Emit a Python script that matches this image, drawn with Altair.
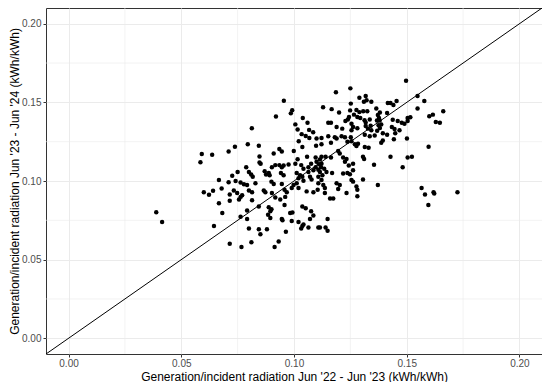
import altair as alt
import pandas as pd

# Generation/incident radiation, Jun '22 - Jun '23 (x) vs Jun '23 - Jun '24 (y)
x_vals = [
    0.0955, 0.092, 0.0986, 0.0992, 0.1039, 0.106, 0.1006, 0.1016, 0.1067, 0.1085, 0.0813,
    0.1497, 0.125, 0.1186, 0.1318, 0.129, 0.1322, 0.131, 0.1343, 0.1252, 0.1416, 0.1428,
    0.1441, 0.1455, 0.1129, 0.1167, 0.12, 0.1249, 0.1277, 0.129, 0.1307, 0.1325, 0.1365,
    0.1381, 0.1372, 0.1413, 0.1266, 0.1281, 0.1294, 0.1313, 0.1336, 0.1318, 0.1239, 0.1244,
    0.1377, 0.1368, 0.138, 0.1438, 0.146, 0.1478, 0.1504, 0.1152, 0.1164, 0.1189, 0.1214,
    0.1228, 0.1255, 0.1262, 0.1281, 0.1255, 0.1318, 0.1328, 0.134, 0.1375, 0.1387, 0.1381,
    0.1434, 0.1446, 0.1468, 0.149, 0.1504, 0.1343, 0.1369,
    0.1548, 0.1578, 0.1548, 0.1516, 0.16, 0.1616, 0.1662, 0.1629, 0.1647,
    0.0591, 0.0637, 0.0585, 0.071, 0.0667, 0.071, 0.0679, 0.0641, 0.06, 0.0623, 0.0715,
    0.1034, 0.1052, 0.1068, 0.1021, 0.11, 0.0738, 0.0795, 0.0844, 0.0935, 0.0946,
    0.091, 0.0999, 0.1037, 0.1098, 0.0847, 0.1058, 0.1016, 0.1096, 0.1115, 0.1006, 0.0976,
    0.0954, 0.0847, 0.0852, 0.0917, 0.0935, 0.0946, 0.0902, 0.1032, 0.1042, 0.1064, 0.1076,
    0.1096, 0.11, 0.1111, 0.0788, 0.087, 0.0876, 0.0888, 0.0892, 0.08, 0.081, 0.0817, 0.075,
    0.0726, 0.0942, 0.0954, 0.1012, 0.1027, 0.102, 0.1037, 0.1064, 0.1086, 0.1108, 0.1071,
    0.1078, 0.1042, 0.1012, 0.0998, 0.099, 0.102, 0.0741, 0.0763, 0.0778, 0.0792, 0.0829,
    0.09, 0.091, 0.0946, 0.0733, 0.0748, 0.08, 0.0814, 0.0866, 0.0873, 0.0902, 0.0958,
    0.0968, 0.1056, 0.1086, 0.1105,
    0.1122, 0.1152, 0.1181, 0.1189, 0.1211, 0.1226, 0.1252, 0.1122, 0.1164, 0.1237, 0.1255,
    0.127, 0.1284, 0.1314, 0.1336, 0.1358, 0.1394, 0.1413, 0.1394, 0.1387, 0.1443, 0.1449,
    0.1277, 0.1314, 0.1331, 0.1501, 0.1196, 0.1203, 0.1122, 0.114, 0.1164, 0.1218, 0.1226,
    0.1233, 0.1306, 0.1311, 0.1428, 0.1504, 0.1355, 0.1122, 0.112, 0.1134, 0.1243, 0.1262,
    0.1482, 0.1144, 0.1169, 0.1115, 0.1126, 0.1218, 0.1237, 0.1248, 0.1262, 0.1108, 0.1122,
    0.1108, 0.113, 0.1137, 0.1255, 0.1262, 0.1306, 0.1189, 0.1203, 0.1196, 0.1277, 0.1281,
    0.1372, 0.1137, 0.1233,
    0.1597, 0.1523, 0.1566, 0.1581, 0.1619, 0.1622, 0.1725,
    0.0715, 0.0667, 0.0682, 0.0645, 0.0715, 0.0389, 0.0415,
    0.0763, 0.077, 0.0756, 0.0814, 0.0917, 0.0939, 0.0961, 0.0958, 0.0844, 0.0888, 0.09,
    0.0895, 0.0792, 0.0763, 0.0792, 0.0885, 0.0895, 0.0946, 0.0949, 0.0983, 0.0993, 0.1037,
    0.1052, 0.1076, 0.1086, 0.1071, 0.099, 0.102, 0.1042, 0.1037, 0.1032, 0.1064, 0.1108,
    0.08, 0.0844, 0.0851, 0.088, 0.0964, 0.0767, 0.0811, 0.0932, 0.0914,
    0.116, 0.1174, 0.1281, 0.1149, 0.1115, 0.114, 0.1149,
    0.1596,
]
y_vals = [
    0.151, 0.141, 0.143, 0.145, 0.140, 0.137, 0.136, 0.1327, 0.1325, 0.131, 0.1335,
    0.1638, 0.1589, 0.1564, 0.154, 0.153, 0.1514, 0.1504, 0.1504, 0.1492, 0.1496, 0.1496,
    0.1483, 0.1508, 0.1469, 0.1457, 0.1436, 0.1449, 0.1452, 0.1438, 0.1443, 0.1443, 0.1461,
    0.1436, 0.142, 0.1432, 0.1422, 0.1407, 0.1401, 0.1387, 0.1391, 0.1372, 0.1391, 0.1407,
    0.1401, 0.1385, 0.1385, 0.1389, 0.1381, 0.137, 0.1401, 0.137, 0.137, 0.1344, 0.1333,
    0.1381, 0.1364, 0.1344, 0.1335, 0.1323, 0.135, 0.1333, 0.1352, 0.1354, 0.136, 0.1337,
    0.1344, 0.1331, 0.1323, 0.1364, 0.1381, 0.1323, 0.1319,
    0.1541, 0.1508, 0.1461, 0.1405, 0.1412, 0.1422, 0.1443, 0.1375, 0.137,
    0.1171, 0.1167, 0.1119, 0.1187, 0.1006, 0.0992, 0.0952, 0.0938, 0.0928, 0.0912, 0.0914,
    0.1298, 0.1286, 0.1273, 0.1253, 0.127, 0.1218, 0.1233, 0.1224, 0.1204, 0.1187,
    0.1175, 0.1191, 0.1216, 0.1224, 0.1156, 0.1154, 0.1138, 0.115, 0.1136, 0.1109, 0.1105,
    0.1099, 0.1117, 0.1109, 0.1101, 0.1101, 0.1088, 0.1088, 0.1101, 0.1078, 0.1088, 0.1109,
    0.1088, 0.1122, 0.1107, 0.1088, 0.1062, 0.1041, 0.1051, 0.1037, 0.1057, 0.1041, 0.1027, 0.1057,
    0.1033, 0.1051, 0.1037, 0.1051, 0.1037, 0.1017, 0.1027, 0.1057, 0.1068, 0.1072, 0.1027,
    0.101, 0.1002, 0.0986, 0.0975, 0.0955, 0.0955, 0.1, 0.099, 0.098, 0.0975, 0.0986,
    0.0996, 0.0981, 0.0981, 0.094, 0.0924, 0.094, 0.0928, 0.094, 0.0928, 0.0924, 0.0944,
    0.0928, 0.0934, 0.0928, 0.0944,
    0.1273, 0.1284, 0.1278, 0.127, 0.1284, 0.1278, 0.1278, 0.1233, 0.1243, 0.1249, 0.1253,
    0.1233, 0.1237, 0.1294, 0.1284, 0.129, 0.1304, 0.1294, 0.1257, 0.1243, 0.1265, 0.1304,
    0.1222, 0.1216, 0.1212, 0.127, 0.1191, 0.1175, 0.1154, 0.1154, 0.115, 0.115, 0.1123,
    0.114, 0.1154, 0.114, 0.1154, 0.115, 0.1103, 0.1109, 0.1088, 0.1078, 0.1099, 0.1109,
    0.1088, 0.1057, 0.1051, 0.1057, 0.1037, 0.1047, 0.1051, 0.1043, 0.1068, 0.1027, 0.1006,
    0.0986, 0.0975, 0.0955, 0.1006, 0.0996, 0.101, 0.0986, 0.0975, 0.0949, 0.0965, 0.0944,
    0.0975, 0.0924, 0.0924,
    0.1218, 0.1154, 0.0955, 0.0914, 0.0928, 0.092, 0.0928,
    0.0875, 0.0858, 0.0796, 0.0714, 0.0601, 0.0802, 0.0739,
    0.0899, 0.0909, 0.0883, 0.0878, 0.0895, 0.0883, 0.0899, 0.0848, 0.0838, 0.0833, 0.0821,
    0.0807, 0.0813, 0.0772, 0.0759, 0.0786, 0.0765, 0.0759, 0.0751, 0.0796, 0.08, 0.0838,
    0.0827, 0.0807, 0.078, 0.0759, 0.0745, 0.0739, 0.0724, 0.0714, 0.0698, 0.0704, 0.0704,
    0.0698, 0.0693, 0.0662, 0.0693, 0.0677, 0.058, 0.0611, 0.0615, 0.058,
    0.0889, 0.0889, 0.0903, 0.0759, 0.0704, 0.0704, 0.0683,
    0.0848,
]

axis_ticks = [0.0, 0.05, 0.10, 0.15, 0.20]
minor_grid = [0.025, 0.075, 0.125, 0.175]
axis_domain = [-0.01, 0.21]
line_ends = [-0.01, 0.21]

x_title = "Generation/incident radiation Jun '22 - Jun '23 (kWh/kWh)"
y_title = "Generation/incident radiation Jun '23 - Jun '24 (kWh/kWh)"

W, H = 496, 346

n = min(len(x_vals), len(y_vals))
pts = pd.DataFrame({"x": x_vals[:n], "y": y_vals[:n]})
minor_df = pd.DataFrame({"x": minor_grid, "y": minor_grid})
line_df = pd.DataFrame({"x": line_ends, "y": line_ends})

xscale = alt.Scale(domain=axis_domain, nice=False, zero=False)
yscale = alt.Scale(domain=axis_domain, nice=False, zero=False)

x_axis = alt.Axis(values=axis_ticks, format=".2f", title=x_title, labelPadding=1,
                  titleY=17, titleX=W / 2, titleAlign="center", titleBaseline="top")
y_axis = alt.Axis(values=axis_ticks, format=".2f", title=y_title,
                  titleX=-25, titleY=H / 2, titleAlign="center",
                  titleAngle=270, titleBaseline="bottom")

X = alt.X("x:Q", scale=xscale, axis=x_axis)
Y = alt.Y("y:Q", scale=yscale, axis=y_axis)

minor_v = alt.Chart(minor_df).mark_rule(color="#EBEBEB", strokeWidth=0.6).encode(x=X)
minor_h = alt.Chart(minor_df).mark_rule(color="#EBEBEB", strokeWidth=0.6).encode(y=Y)

points = alt.Chart(pts).mark_circle(size=20, color="black", opacity=1).encode(x=X, y=Y)

diag = alt.Chart(line_df).mark_line(color="black", strokeWidth=1, clip=True).encode(x=X, y=Y)

chart = alt.layer(minor_v, minor_h, points, diag).properties(
    width=W,
    height=H,
    autosize=alt.AutoSizeParams(type="none"),
    padding={"left": 38, "top": 0, "right": 0, "bottom": 28},
).configure_view(
    stroke="#333333", strokeWidth=1
).configure_axis(
    grid=True, gridColor="#EBEBEB", gridWidth=1,
    domain=False,
    tickColor="#333333", tickSize=3, tickWidth=1,
    labelFont="Liberation Sans", labelFontSize=10, labelColor="#4D4D4D", labelPadding=2,
    titleFont="Liberation Sans", titleFontSize=12, titleFontWeight="normal", titleColor="black",
)

chart.save("out.html", embed_options={"renderer": "svg", "actions": False})
